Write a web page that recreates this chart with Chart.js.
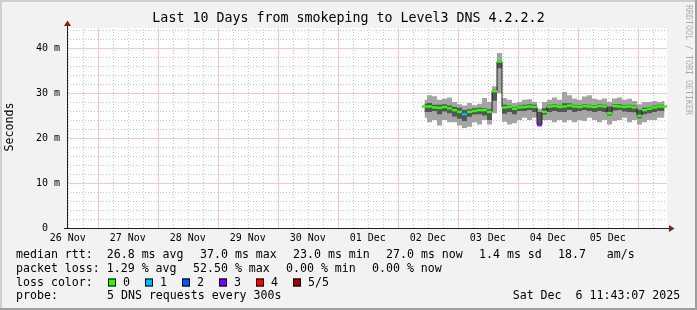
<!DOCTYPE html>
<html><head><meta charset="utf-8">
<script src="https://cdn.jsdelivr.net/npm/chart.js@4/dist/chart.umd.min.js"></script>
<style>html,body{margin:0;padding:0;background:#f2f2f2}canvas{display:block}</style>
</head><body>
<canvas id="c" width="697" height="310"></canvas>
<script>
// ---------- data ----------
const titleText = "Last 10 Days from smokeping to Level3 DNS 4.2.2.2";
const yAxisTitle = "Seconds";
const watermark = "RRDTOOL / TOBI OETIKER";
const dayLabels = ["26 Nov","27 Nov","28 Nov","29 Nov","30 Nov","01 Dec","02 Dec","03 Dec","04 Dec","05 Dec"];
// hours since Nov 26 11:43 (graph start)
const hours = [143,145,147,149,151,153,155,157,159,161,163,165,167,169,171,173,175,177,179,181,183,185,187,189,191,193,195,197,199,201,203,205,207,209,211,213,215,217,219,221,223,225,227,229,231,233,235,237,239];
// values in ms
const median   = [27.0,27.0,26.8,26.7,26.9,26.6,26.2,25.8,25.3,25.8,26.0,26.2,26.2,25.8,30.4,37.0,26.8,26.9,26.5,26.8,26.9,27.0,26.9,23.0,25.8,27.0,27.1,26.9,27.0,27.2,27.0,26.9,27.1,27.0,26.9,27.1,27.0,25.5,27.1,27.0,26.9,27.0,26.8,24.9,26.2,26.5,26.8,27.0,27.0];
const lightMax = [28.5,29.5,29.3,28.5,28.7,29.0,28.0,27.5,27.2,27.8,27.3,27.6,28.9,28.0,31.5,38.9,28.9,28.5,27.8,28.0,28.5,28.6,28.0,26.5,28.0,28.5,29.0,28.5,30.2,29.5,28.8,28.5,29.2,29.5,28.7,28.5,28.8,28.0,28.8,29.0,28.5,28.7,28.2,27.5,28.0,28.0,28.2,28.0,28.2];
const lightMin = [24.5,23.5,24.0,22.8,24.0,23.5,23.5,22.8,22.2,22.5,23.5,23.0,24.0,23.0,25.5,30.0,23.6,23.0,23.3,24.0,24.5,24.0,24.5,22.5,24.0,24.0,23.5,24.0,23.5,24.0,23.5,24.0,23.8,24.5,24.0,23.5,24.0,23.0,23.8,24.0,24.5,23.5,24.0,23.0,23.5,24.0,24.0,24.5,24.5];
const darkMax  = [27.6,27.8,27.4,27.4,27.5,27.2,26.9,26.7,26.2,26.4,26.6,26.7,26.6,26.4,30.7,37.2,27.4,27.2,26.9,27.2,27.4,27.5,27.4,25.8,26.6,27.4,27.5,27.2,27.7,27.7,27.4,27.3,27.5,27.4,27.3,27.5,27.4,27.0,27.5,27.5,27.3,27.4,27.2,26.3,26.7,26.9,27.2,27.4,27.4];
const darkMin  = [25.8,25.8,26.0,25.3,25.9,25.5,24.8,24.3,23.8,24.7,25.2,25.3,25.0,24.0,28.3,35.5,25.4,25.8,25.3,26.0,26.0,26.2,25.8,22.9,25.2,25.8,26.0,25.8,25.8,26.2,25.8,26.0,26.2,26.0,25.8,26.0,25.8,25.0,26.1,26.2,25.9,25.8,25.7,24.4,25.3,25.5,25.8,26.0,26.0];
const lossLevel= [0,0,0,0,0,0,0,0,1,0,0,0,0,0,0,0,0,0,0,0,0,0,0,3,0,0,0,0,0,0,0,0,0,0,0,0,0,0,0,0,0,0,0,0,0,0,0,0,0];
const lossColors = ["#26ff00","#00b8ff","#0059ff","#7e00ff","#ff0000","#a10000"];
const lossLabels = ["0","1","2","3","4","5/5"];
const rttRow  = [["median rtt:  26.8 ms avg",16],["37.0 ms max",200],["23.0 ms min",293],["27.0 ms now",386],["1.4 ms sd",479],["18.7   am/s",558]];
const lossRow = [["packet loss: 1.29 % avg",16],["52.50 % max",193],["0.00 % min",286],["0.00 % now",372]];
const probeRow = [["probe:",16],["5 DNS requests every 300s",107]];
const dateText = "Sat Dec  6 11:43:07 2025";

// ---------- styling ----------
const MONO = "'DejaVu Sans Mono', monospace";
const GRID = "#c8c8c8";
const MGRID = "#f9c6c6";
const AXIS = "rgb(31,31,31)";
const ARROW = "rgb(128,31,31)";
const Y_MAX = 44.444;
const firstNoon = 0.283;

const xTicks = []; for (let t = firstNoon; t <= 240; t += 6) xTicks.push(t);
const yTicks = []; for (let v = 0; v <= 44; v += 2) yTicks.push(v);

const pts = arr => hours.map((h, i) => ({x: h, y: arr[i]}));

const framePlugin = {
  id: 'frame',
  beforeDraw(chart) {
    const c = chart.ctx, a = chart.chartArea, W = chart.width, H = chart.height;
    c.save();
    c.fillStyle = '#f2f2f2'; c.fillRect(0, 0, W, H);
    c.fillStyle = '#cfcfcf'; c.fillRect(0, 0, W, 2); c.fillRect(0, 0, 2, H);
    c.fillStyle = '#9e9e9e'; c.fillRect(0, H - 2, W, 2); c.fillRect(W - 2, 0, 2, H);
    c.fillStyle = '#ffffff'; c.fillRect(a.left, a.top, a.right - a.left, a.bottom - a.top);
    c.restore();
  },
  beforeDatasetsDraw(chart) {
    const c = chart.ctx, a = chart.chartArea, xs = chart.scales.x, ys = chart.scales.y;
    c.save();
    c.lineWidth = 1; c.globalAlpha = 1;
    const drawV = (v, col) => { const px = Math.round(xs.getPixelForValue(v)) + 0.5;
      c.strokeStyle = col; c.beginPath(); c.moveTo(px, a.bottom); c.lineTo(px, a.top); c.stroke(); };
    const drawH = (v, col) => { const py = Math.round(ys.getPixelForValue(v)) + 0.5;
      c.strokeStyle = col; c.beginPath(); c.moveTo(a.left, py); c.lineTo(a.right, py); c.stroke(); };
    c.setLineDash([1, 2]);
    xTicks.forEach((v, i) => { if (i % 4 !== 2) drawV(v, GRID); });
    yTicks.forEach(v => { if (v % 10 !== 0) drawH(v, GRID); });
    c.setLineDash([]);
    xTicks.forEach((v, i) => { if (i % 4 === 2) drawV(v, MGRID); });
    yTicks.forEach(v => { if (v % 10 === 0 && v > 0) drawH(v, MGRID); });
    c.restore();
  },
  afterDraw(chart) {
    const c = chart.ctx, a = chart.chartArea;
    c.save();
    // axes
    c.strokeStyle = AXIS; c.lineWidth = 1;
    c.beginPath(); c.moveTo(a.left + 0.5, a.bottom + 0.5); c.lineTo(a.left + 0.5, a.top - 3); c.stroke();
    c.beginPath(); c.moveTo(a.left - 3, a.bottom + 0.5); c.lineTo(a.right + 2, a.bottom + 0.5); c.stroke();
    c.fillStyle = ARROW;
    c.beginPath(); c.moveTo(a.left + 0.5, a.top - 7.5); c.lineTo(a.left - 3, a.top - 2); c.lineTo(a.left + 4, a.top - 2); c.closePath(); c.fill();
    c.beginPath(); c.moveTo(a.right + 7.5, a.bottom + 0.5); c.lineTo(a.right + 2, a.bottom - 3); c.lineTo(a.right + 2, a.bottom + 4); c.closePath(); c.fill();
    // title
    c.fillStyle = '#000';
    c.font = "13.3px " + MONO; c.textAlign = 'center'; c.textBaseline = 'middle';
    c.fillText(titleText, 348.5, 19);
    // y title
    c.save(); c.translate(10, 127); c.rotate(-Math.PI / 2);
    c.font = "11.6px " + MONO; c.fillText(yAxisTitle, 0, 0); c.restore();
    // watermark
    c.save(); c.translate(688.5, 5); c.rotate(Math.PI / 2);
    c.font = "8.3px " + MONO; c.fillStyle = 'rgba(0,0,0,0.3)'; c.textAlign = 'left';
    c.fillText(watermark, 0, 0); c.restore();
    // legend rows
    c.font = "11.6px " + MONO; c.textAlign = 'left'; c.fillStyle = '#000';
    rttRow.forEach(([t, x]) => c.fillText(t, x, 255));
    lossRow.forEach(([t, x]) => c.fillText(t, x, 268.5));
    c.fillText("loss color:", 16, 282.5);
    lossColors.forEach((col, i) => {
      const bx = 108 + i * 37;
      c.fillStyle = col; c.fillRect(bx, 278.5, 8, 8);
      c.strokeStyle = '#000'; c.lineWidth = 1; c.strokeRect(bx + 0.5, 278.5 + 0.5, 7, 7);
      c.fillStyle = '#000'; c.fillText(lossLabels[i], bx + 15, 282.5);
    });
    probeRow.forEach(([t, x]) => c.fillText(t, x, 296));
    c.fillText(dateText, 512.7, 296);
    c.restore();
  }
};

new Chart(document.getElementById('c'), {
  type: 'line',
  data: {
    datasets: [
      { data: pts(median), showLine: false, pointStyle: 'line', pointRadius: 2.5, pointBorderWidth: 2.5,
        pointBorderColor: lossLevel.map(l => lossColors[l]), pointBackgroundColor: 'transparent' },
      { data: pts(median), stepped: 'middle', borderColor: '#202020', borderWidth: 1, pointRadius: 0, fill: false },
      { data: pts(darkMax), stepped: 'middle', borderColor: 'rgba(0,0,0,0)', borderWidth: 1, pointRadius: 0, fill: '+1', backgroundColor: '#555555' },
      { data: pts(darkMin), stepped: 'middle', borderColor: 'rgba(0,0,0,0)', borderWidth: 1, pointRadius: 0, fill: false },
      { data: pts(lightMax), stepped: 'middle', borderColor: 'rgba(0,0,0,0)', borderWidth: 1, pointRadius: 0, fill: '+1', backgroundColor: '#a4a4a4' },
      { data: pts(lightMin), stepped: 'middle', borderColor: 'rgba(0,0,0,0)', borderWidth: 1, pointRadius: 0, fill: false }
    ]
  },
  options: {
    responsive: false, devicePixelRatio: 1, animation: false, events: [],
    layout: { padding: { left: 0, right: 30, top: 28, bottom: 0 } },
    plugins: { legend: { display: false }, tooltip: { enabled: false }, title: { display: false } },
    scales: {
      x: {
        type: 'linear', min: 0, max: 240,
        afterBuildTicks: s => { s.ticks = xTicks.map(v => ({value: v})); },
        afterFit: s => { s.height = 82; },
        ticks: { autoSkip: false, maxRotation: 0, padding: 4, color: '#000', font: { family: MONO, size: 10 },
          callback: (v, i) => (i % 4 === 0 ? dayLabels[i / 4] : '') },
        grid: { display: false, drawTicks: false },
        border: { display: false }
      },
      y: {
        type: 'linear', min: 0, max: Y_MAX,
        afterBuildTicks: s => { s.ticks = yTicks.map(v => ({value: v})); },
        afterFit: s => { s.width = 67; },
        ticks: { autoSkip: false, padding: 7, color: '#000', font: { family: MONO, size: 10 },
          callback: v => (v % 10 === 0 ? (v === 0 ? '0  ' : v + ' m') : '') },
        grid: { display: false, drawTicks: false },
        border: { display: false }
      }
    }
  },
  plugins: [framePlugin]
});
</script>
</body></html>
